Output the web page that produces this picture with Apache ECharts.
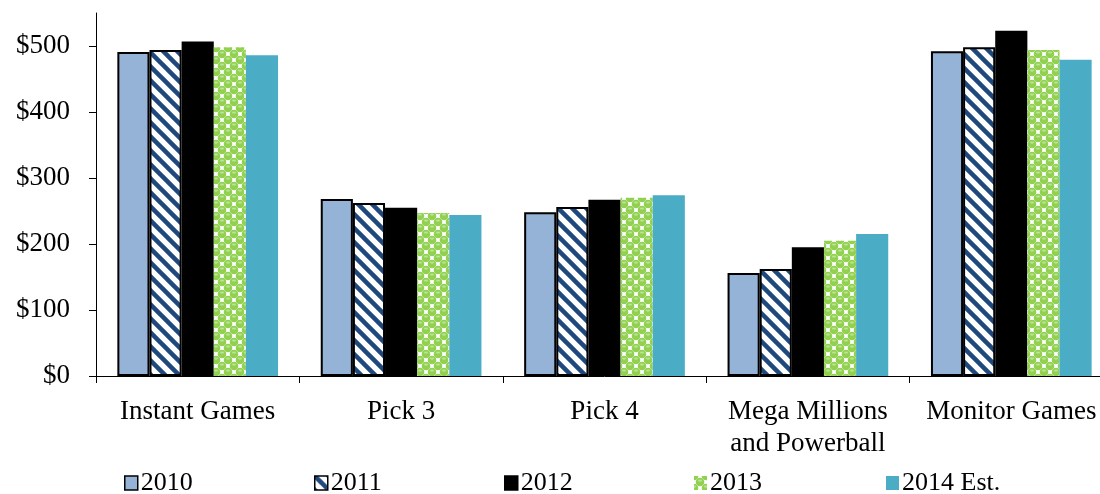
<!DOCTYPE html>
<html>
<head>
<meta charset="utf-8">
<script src="https://cdn.jsdelivr.net/npm/echarts@6/dist/echarts.min.js"></script>
<style>
  html, body { margin: 0; padding: 0; background: #fff; overflow: hidden; }
  /* the plot runs slightly past the right edge of the page */
  #chart { width: 1113px; height: 494px; }
</style>
</head>
<body>
<div id="chart"></div>
<script>
// Lottery sales by game type, in millions of dollars
const categories = ['Instant Games', 'Pick 3', 'Pick 4', 'Mega Millions\nand Powerball', 'Monitor Games'];
const years = ['2010', '2011', '2012', '2013', '2014 Est.'];
const sales2010 = [491, 268, 248, 156, 492];
const sales2011 = [494, 262, 256, 162, 498];
const sales2012 = [507, 255, 267, 195, 523];
const sales2013 = [498, 247, 270, 205, 494];
const sales2014 = [486, 244, 274, 215, 479];
const yTicks = [0, 100, 200, 300, 400, 500];

// Diagonal navy stripes on white
function stripeTile() {
  const s = 14;
  const c = document.createElement('canvas');
  c.width = s; c.height = s;
  const g = c.getContext('2d');
  g.fillStyle = '#ffffff';
  g.fillRect(0, 0, s, s);
  g.strokeStyle = '#1f497d';
  g.lineWidth = 4.5;
  for (let k = -2; k <= 2; k++) {
    g.beginPath();
    g.moveTo(k * s - 2, -2);
    g.lineTo(k * s + s + 2, s + 2);
    g.stroke();
  }
  return c;
}

// Green dotted checker
function dotTile() {
  const s = 12;
  const c = document.createElement('canvas');
  c.width = s; c.height = s;
  const g = c.getContext('2d');
  g.fillStyle = '#ffffff';
  g.fillRect(0, 0, s, s);
  g.fillStyle = '#92d050';
  const pts = [[6, 6], [0, 0], [12, 0], [0, 12], [12, 12]];
  pts.forEach(p => { g.beginPath(); g.arc(p[0], p[1], 4.3, 0, Math.PI * 2); g.fill(); });
  g.fillStyle = '#b9e294';
  [[6, 4.6], [0, -1.4], [12, -1.4], [0, 10.6], [12, 10.6]].forEach(p => {
    g.beginPath(); g.ellipse(p[0], p[1], 2.2, 1.1, 0, 0, Math.PI * 2); g.fill();
  });
  return c;
}

const serif = 'Liberation Serif';
const styles = [
  { color: '#95b3d7', borderColor: '#000', borderWidth: 2 },
  { color: { image: stripeTile(), repeat: 'repeat' }, borderColor: '#000', borderWidth: 2 },
  { color: '#000000', borderColor: '#000', borderWidth: 2 },
  { color: { image: dotTile(), repeat: 'repeat' }, borderWidth: 0 },
  { color: '#4bacc6', borderWidth: 0 }
];
const values = [sales2010, sales2011, sales2012, sales2013, sales2014];
const legendLeft = [119, 309, 499, 689, 881];

const chart = echarts.init(document.getElementById('chart'), null, { renderer: 'canvas' });
chart.setOption({
  animation: false,
  backgroundColor: '#ffffff',
  grid: { left: 96, right: 0, top: 13, bottom: 118, containLabel: false },
  legend: years.map((y, i) => ({
    data: [y],
    left: legendLeft[i],
    top: 465,
    icon: 'rect',
    itemWidth: 13,
    itemHeight: 14,
    itemGap: 0,
    itemStyle: { borderColor: i < 3 ? '#000' : 'transparent', borderWidth: i < 3 ? 1.5 : 0 },
    textStyle: { fontFamily: serif, fontSize: 26, color: '#000', padding: [0, 0, 0, -2] }
  })),
  xAxis: {
    type: 'category',
    data: categories,
    axisLine: { lineStyle: { color: '#000', width: 1 } },
    axisTick: { show: true, length: 7, lineStyle: { color: '#000' } },
    axisLabel: {
      fontFamily: serif, fontSize: 27, color: '#000', margin: 20, lineHeight: 32,
      interval: 0
    }
  },
  yAxis: {
    type: 'value',
    min: 0, max: 550, interval: 100,
    splitLine: { show: false },
    axisLine: { show: true, lineStyle: { color: '#000', width: 1 } },
    axisTick: { show: true, length: 7, lineStyle: { color: '#000' }, customValues: yTicks },
    axisLabel: {
      fontFamily: serif, fontSize: 27, color: '#000', margin: 26,
      customValues: yTicks,
      formatter: v => '$' + v
    }
  },
  series: years.map((y, i) => ({
    name: y,
    type: 'bar',
    data: values[i],
    barGap: '0%',
    barCategoryGap: '21%',
    itemStyle: styles[i]
  }))
});
</script>
</body>
</html>
